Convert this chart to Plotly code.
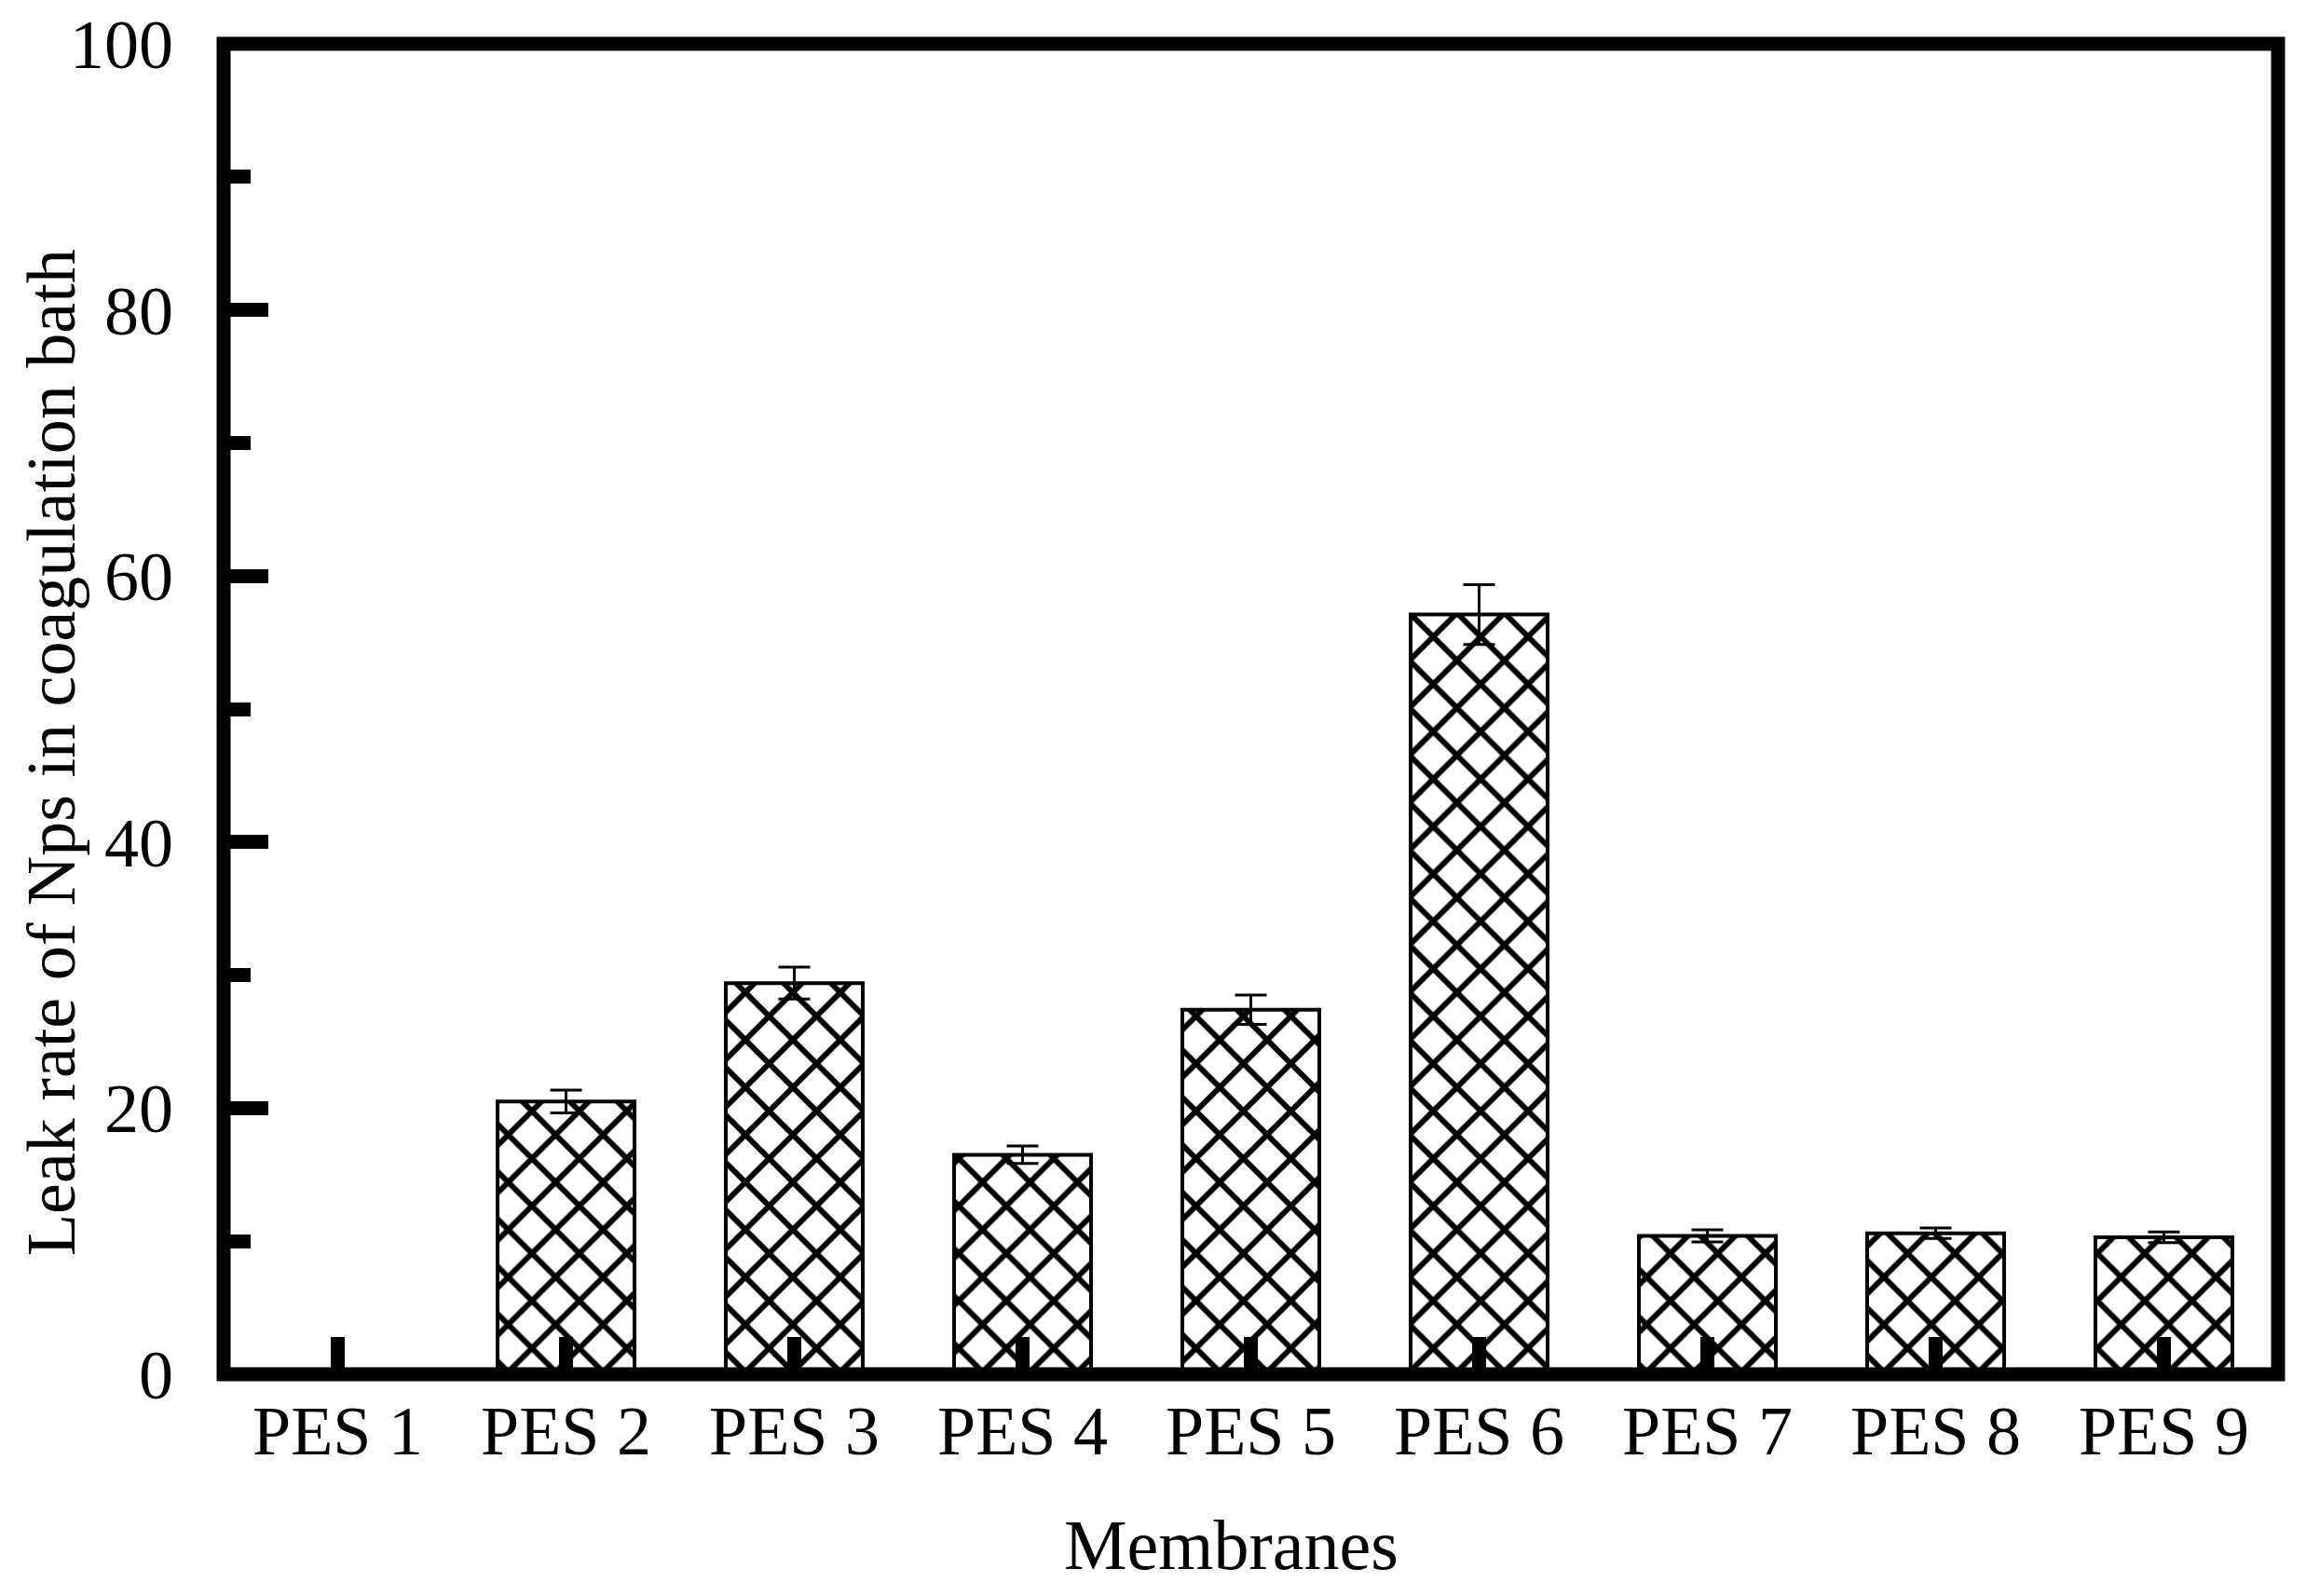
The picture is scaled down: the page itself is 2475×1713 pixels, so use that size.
import plotly.graph_objects as go

categories = ["PES 1", "PES 2", "PES 3", "PES 4", "PES 5", "PES 6", "PES 7", "PES 8", "PES 9"]
leak_rate = [0.0, 20.5, 29.4, 16.5, 27.4, 57.1, 10.4, 10.6, 10.3]
leak_err = [0.0, 0.85, 1.2, 0.65, 1.1, 2.25, 0.45, 0.4, 0.4]
y_ticks = [0, 20, 40, 60, 80, 100]

FONT = "Liberation Serif, Times New Roman, serif"

fig = go.Figure()
fig.add_trace(go.Bar(
    x=categories,
    y=leak_rate,
    width=0.6,
    marker=dict(
        color="white",
        line=dict(color="black", width=4),
        pattern=dict(shape="x", size=36, solidity=0.3, fgcolor="black", bgcolor="white", fillmode="replace"),
    ),
    error_y=dict(type="data", array=leak_err, visible=True, color="black", thickness=3, width=17),
))

fig.update_layout(
    width=2459,
    height=1697,
    margin=dict(l=232, r=22, t=39, b=230, autoexpand=False),
    paper_bgcolor="white",
    plot_bgcolor="white",
    showlegend=False,
    font=dict(family=FONT, color="black", size=72),
    xaxis=dict(
        type="category",
        range=[-0.5, 8.5],
        automargin=False,
        showline=False,
        showgrid=False,
        zeroline=False,
        ticks="inside",
        ticklen=40,
        tickwidth=15,
        tickcolor="black",
        tickfont=dict(family=FONT, size=74),
        ticklabelstandoff=11,
        ticklabeloverflow="allow",
    ),
    yaxis=dict(
        range=[0, 100],
        tickvals=y_ticks,
        automargin=False,
        showline=False,
        showgrid=False,
        zeroline=False,
        ticks="inside",
        ticklen=48,
        tickwidth=15,
        tickcolor="black",
        tickfont=dict(family=FONT, size=74),
        ticklabelstandoff=53,
        ticklabeloverflow="allow",
        minor=dict(dtick=10, tick0=0, ticks="inside", ticklen=29, tickwidth=15, tickcolor="black", showgrid=False),
    ),
    annotations=[
        dict(text="Membranes", xref="paper", yref="paper", x=0.4907, y=-0.128,
             xanchor="center", yanchor="middle", showarrow=False,
             font=dict(family=FONT, size=76, color="black")),
        dict(text="Leak rate of Nps in coagulation bath", xref="paper", yref="paper",
             x=-0.0839, y=0.467, xanchor="center", yanchor="middle", textangle=-90,
             showarrow=False, font=dict(family=FONT, size=74, color="black")),
    ],
    shapes=[dict(
        type="rect", xref="paper", yref="paper", x0=0, y0=0, x1=1, y1=1,
        line=dict(color="black", width=15), layer="above",
    )],
)

fig.write_html("out.html")
